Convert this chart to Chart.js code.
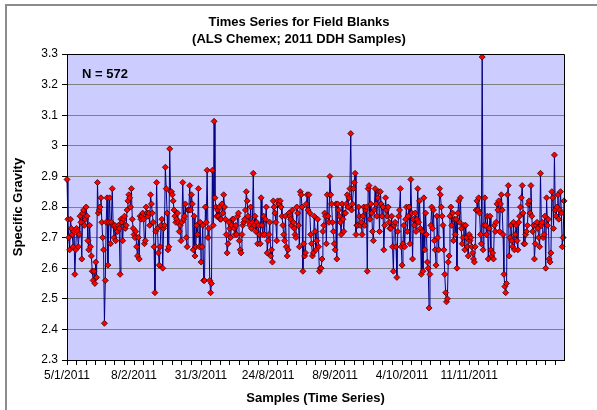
<!DOCTYPE html>
<html>
<head>
<meta charset="utf-8">
<script src="https://cdn.jsdelivr.net/npm/chart.js@4.4.1/dist/chart.umd.min.js"></script>
<style>
  html, body { margin: 0; padding: 0; background: #fff; }
</style>
</head>
<body>
<canvas id="sgChart" width="597" height="410"></canvas>
<script>
// tick labels on the category axis, one every 77 samples
const dateLabels = ['5/1/2011', '8/2/2011', '31/3/2011', '24/8/2011', '8/9/2011', '4/10/2011', '11/11/2011'];
const labelEvery = 77;
const tickEvery = 11;

// specific gravity of the 572 field blanks, in sample order
const specificGravity = [
  2.89, 2.76, 2.70, 2.66, 2.76, 2.73, 2.71, 2.67, 2.72, 2.58, 2.66, 2.73, 2.72, 2.67, 2.71, 2.77, 2.75, 2.63, 2.78, 2.79,
  2.74, 2.76, 2.80, 2.77, 2.69, 2.66, 2.74, 2.67, 2.64, 2.59, 2.56, 2.59, 2.55, 2.62, 2.57, 2.88, 2.78, 2.79, 2.80, 2.83,
  2.75, 2.70, 2.66, 2.42, 2.56, 2.75, 2.83, 2.61, 2.75, 2.83, 2.68, 2.75, 2.86, 2.74, 2.70, 2.74, 2.69, 2.73, 2.72, 2.74,
  2.73, 2.58, 2.76, 2.75, 2.69, 2.76, 2.77, 2.73, 2.74, 2.79, 2.82, 2.84, 2.83, 2.80, 2.86, 2.76, 2.73, 2.71, 2.70, 2.72,
  2.67, 2.64, 2.70, 2.63, 2.77, 2.76, 2.77, 2.78, 2.76, 2.68, 2.69, 2.80, 2.78, 2.77, 2.78, 2.74, 2.84, 2.81, 2.78, 2.75,
  2.67, 2.52, 2.72, 2.88, 2.73, 2.65, 2.61, 2.67, 2.74, 2.76, 2.60, 2.73, 2.74, 2.93, 2.86, 2.78, 2.66, 2.67, 2.99, 2.85,
  2.85, 2.84, 2.82, 2.79, 2.77, 2.75, 2.76, 2.78, 2.75, 2.72, 2.74, 2.69, 2.75, 2.88, 2.76, 2.77, 2.81, 2.70, 2.67, 2.79,
  2.79, 2.87, 2.79, 2.84, 2.81, 2.66, 2.77, 2.64, 2.67, 2.74, 2.71, 2.86, 2.67, 2.75, 2.62, 2.67, 2.74, 2.56, 2.56, 2.80,
  2.75, 2.92, 2.70, 2.73, 2.56, 2.52, 2.55, 2.92, 2.74, 3.08, 2.83, 2.80, 2.77, 2.79, 2.77, 2.80, 2.76, 2.76, 2.81, 2.78,
  2.84, 2.80, 2.76, 2.71, 2.65, 2.68, 2.75, 2.73, 2.70, 2.74, 2.76, 2.76, 2.73, 2.71, 2.74, 2.71, 2.77, 2.78, 2.69, 2.66,
  2.65, 2.71, 2.74, 2.75, 2.76, 2.79, 2.85, 2.82, 2.77, 2.75, 2.74, 2.80, 2.73, 2.75, 2.91, 2.74, 2.77, 2.72, 2.75, 2.68,
  2.74, 2.71, 2.68, 2.83, 2.74, 2.71, 2.77, 2.71, 2.76, 2.80, 2.65, 2.69, 2.71, 2.75, 2.64, 2.66, 2.62, 2.82, 2.80, 2.78,
  2.75, 2.69, 2.82, 2.81, 2.81, 2.82, 2.80, 2.77, 2.74, 2.71, 2.69, 2.77, 2.67, 2.64, 2.66, 2.78, 2.77, 2.76, 2.74, 2.79,
  2.75, 2.73, 2.71, 2.70, 2.80, 2.78, 2.74, 2.67, 2.85, 2.84, 2.80, 2.59, 2.68, 2.64, 2.65, 2.81, 2.84, 2.79, 2.84, 2.78,
  2.71, 2.68, 2.64, 2.65, 2.77, 2.72, 2.66, 2.69, 2.76, 2.67, 2.59, 2.60, 2.60, 2.63, 2.72, 2.74, 2.78, 2.77, 2.68, 2.84,
  2.77, 2.75, 2.90, 2.84, 2.81, 2.75, 2.72, 2.68, 2.66, 2.81, 2.63, 2.81, 2.79, 2.77, 2.75, 2.71, 2.81, 2.76, 2.72, 2.78,
  2.78, 2.81, 2.84, 2.80, 2.83, 2.86, 3.04, 2.79, 2.81, 2.86, 2.88, 2.91, 2.71, 2.74, 2.74, 2.80, 2.77, 2.74, 2.75, 2.71,
  2.77, 2.80, 2.74, 2.79, 2.80, 2.59, 2.86, 2.87, 2.76, 2.81, 2.78, 2.72, 2.69, 2.79, 2.86, 2.81, 2.77, 2.83, 2.85, 2.72,
  2.85, 2.81, 2.77, 2.80, 2.66, 2.74, 2.83, 2.79, 2.77, 2.80, 2.75, 2.73, 2.73, 2.77, 2.67, 2.59, 2.74, 2.75, 2.67, 2.57,
  2.72, 2.77, 2.79, 2.86, 2.67, 2.61, 2.68, 2.74, 2.67, 2.76, 2.80, 2.72, 2.77, 2.80, 2.68, 2.89, 2.78, 2.63, 2.76, 2.74,
  2.78, 2.72, 2.76, 2.86, 2.75, 2.82, 2.73, 2.58, 2.72, 2.59, 2.83, 2.66, 2.78, 2.71, 2.62, 2.60, 2.47, 2.58, 2.74, 2.80,
  2.73, 2.79, 2.69, 2.66, 2.61, 2.77, 2.70, 2.66, 2.86, 2.84, 2.80, 2.77, 2.74, 2.66, 2.58, 2.52, 2.49, 2.50, 2.62, 2.64,
  2.77, 2.80, 2.74, 2.78, 2.69, 2.76, 2.71, 2.76, 2.60, 2.78, 2.82, 2.75, 2.83, 2.73, 2.68, 2.70, 2.74, 2.66, 2.74, 2.70,
  2.67, 2.64, 2.71, 2.69, 2.70, 2.67, 2.65, 2.63, 2.62, 2.67, 2.79, 2.82, 2.79, 2.83, 2.78, 2.71, 2.68, 3.29, 2.66, 2.74,
  2.83, 2.74, 2.71, 2.77, 2.63, 2.73, 2.77, 2.66, 2.64, 2.65, 2.63, 2.74, 2.72, 2.75, 2.81, 2.79, 2.82, 2.72, 2.81, 2.84,
  2.79, 2.71, 2.58, 2.54, 2.52, 2.55, 2.84, 2.87, 2.64, 2.70, 2.74, 2.69, 2.67, 2.75, 2.66, 2.71, 2.74, 2.69, 2.66, 2.75,
  2.77, 2.80, 2.83, 2.87, 2.78, 2.68, 2.68, 2.71, 2.72, 2.74, 2.81, 2.82, 2.78, 2.87, 2.77, 2.72, 2.74, 2.63, 2.68, 2.74,
  2.75, 2.73, 2.70, 2.67, 2.91, 2.74, 2.75, 2.70, 2.71, 2.77, 2.60, 2.83, 2.74, 2.76, 2.63, 2.62, 2.65, 2.85, 2.83, 2.73,
  2.97, 2.79, 2.77, 2.80, 2.84, 2.76, 2.79, 2.85, 2.78, 2.67, 2.70, 2.82
];

const categories = specificGravity.map((v, i) =>
  i % labelEvery === 0 ? (dateLabels[i / labelEvery] || '') : '');

const FONT = 'Liberation Sans, Arial, sans-serif';

const decor = {
  id: 'decor',
  beforeDraw(chart) {
    const { ctx, chartArea: a } = chart;
    ctx.save();
    ctx.fillStyle = '#fff';
    ctx.fillRect(0, 0, chart.width, chart.height);
    ctx.fillStyle = '#CCCCFF';
    ctx.fillRect(a.left, a.top, a.right - a.left, a.bottom - a.top);
    ctx.restore();
  },
  afterDraw(chart) {
    const { ctx, chartArea: a } = chart;
    ctx.save();
    // plot frame (top and right; left/bottom come from the axes)
    ctx.strokeStyle = '#000';
    ctx.lineWidth = 1;
    ctx.beginPath();
    ctx.moveTo(Math.round(a.left) + 0.5, Math.round(a.top) + 0.5);
    ctx.lineTo(Math.round(a.right) + 0.5, Math.round(a.top) + 0.5);
    ctx.lineTo(Math.round(a.right) + 0.5, Math.round(a.bottom) + 0.5);
    ctx.stroke();
    // outer chart border, only left and top edges are inside the picture
    ctx.strokeStyle = '#8c8c8c';
    ctx.lineWidth = 2;
    ctx.beginPath();
    ctx.moveTo(6, 410);
    ctx.lineTo(6, 5);
    ctx.lineTo(597, 5);
    ctx.stroke();

    ctx.fillStyle = '#000';
    ctx.textAlign = 'center';
    ctx.textBaseline = 'alphabetic';
    ctx.font = 'bold 13px ' + FONT;
    ctx.fillText('Times Series for Field Blanks', 299, 26);
    ctx.fillText('(ALS Chemex; 2011 DDH Samples)', 299, 43);
    ctx.fillText('Samples (Time Series)', (a.left + a.right) / 2, 402);

    ctx.textAlign = 'left';
    ctx.fillText('N = 572', 82, 78);

    ctx.translate(22, (a.top + a.bottom) / 2);
    ctx.rotate(-Math.PI / 2);
    ctx.textAlign = 'center';
    ctx.fillText('Specific Gravity', 0, 0);
    ctx.restore();
  }
};

new Chart(document.getElementById('sgChart'), {
  type: 'line',
  data: {
    labels: categories,
    datasets: [{
      data: specificGravity,
      borderColor: '#000080',
      borderWidth: 1,
      tension: 0,
      pointStyle: 'rectRot',
      pointRadius: 3,
      pointBackgroundColor: '#ff0000',
      pointBorderColor: '#3a0000',
      pointBorderWidth: 0.8
    }]
  },
  options: {
    responsive: false,
    animation: false,
    layout: { padding: { top: 54, right: 33, left: 0, bottom: 0 } },
    plugins: {
      legend: { display: false },
      tooltip: { enabled: false }
    },
    scales: {
      x: {
        type: 'category',
        offset: false,
        afterFit(scale) { scale.height = 50; },
        border: { color: '#000', width: 1 },
        grid: {
          drawOnChartArea: false,
          tickLength: 5,
          color: ctx => (ctx.index % tickEvery === 0 ? '#000' : 'rgba(0,0,0,0)')
        },
        ticks: {
          autoSkip: false,
          maxRotation: 0,
          minRotation: 0,
          padding: 3,
          color: '#000',
          font: { family: FONT, size: 12 }
        }
      },
      y: {
        min: 2.3,
        max: 3.3,
        afterFit(scale) { scale.width = 67; },
        border: { color: '#000', width: 1 },
        grid: { color: '#808080', lineWidth: 1, tickLength: 5, tickColor: '#000' },
        ticks: {
          stepSize: 0.1,
          padding: 4,
          color: '#000',
          font: { family: FONT, size: 12 },
          callback: v => String(+v.toFixed(1))
        }
      }
    }
  },
  plugins: [decor]
});
</script>
</body>
</html>
